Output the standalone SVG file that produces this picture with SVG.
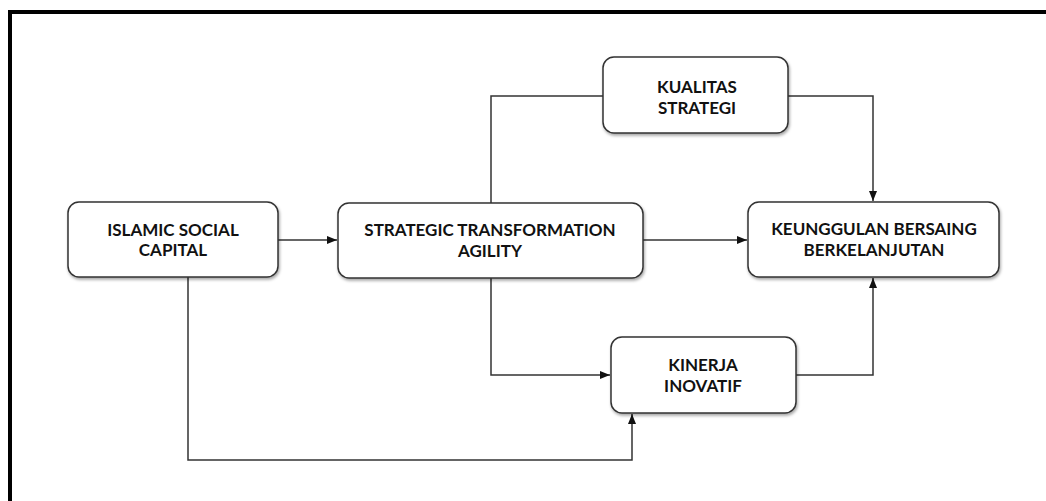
<svg xmlns="http://www.w3.org/2000/svg" width="1046" height="501" viewBox="0 0 1046 501">
<defs>
<filter id="sh" x="-10%" y="-10%" width="120%" height="130%">
<feDropShadow dx="1" dy="2" stdDeviation="1.5" flood-color="#000" flood-opacity="0.35"/>
</filter>
<marker id="ah" markerWidth="10" markerHeight="8" refX="10" refY="4" orient="auto" markerUnits="userSpaceOnUse">
<path d="M0,0 L10,4 L0,8 Z" fill="#111"/>
</marker>
</defs>
<style>
.box{fill:#fff;stroke:#333;stroke-width:1.5;filter:url(#sh)}
.t{font-family:Lato,"Open Sans",sans-serif;font-weight:bold;font-size:17px;fill:#111;text-anchor:middle}
.c{fill:none;stroke:#333;stroke-width:1.5}
</style>
<rect width="1046" height="501" fill="#fff"/>
<path d="M10,501 L10,12 L1046,12" fill="none" stroke="#000" stroke-width="4"/>
<g id="connectors">
<path class="c" d="M278,240 L337,240" marker-end="url(#ah)"/>
<path class="c" d="M643,240 L747,240" marker-end="url(#ah)"/>
<path class="c" d="M491,203 L491,96 L603,96"/>
<path class="c" d="M788,96 L873,96 L873,201" marker-end="url(#ah)"/>
<path class="c" d="M491,278 L491,375 L610,375" marker-end="url(#ah)"/>
<path class="c" d="M796,375 L873,375 L873,278" marker-end="url(#ah)"/>
<path class="c" d="M188,277 L188,460 L632,460 L632,414" marker-end="url(#ah)"/>
</g>
<g id="n1"><rect class="box" x="68" y="202" width="210" height="75" rx="11"/>
<text class="t" x="173" y="236">ISLAMIC SOCIAL</text><text class="t" x="173" y="256">CAPITAL</text></g>
<g id="n2"><rect class="box" x="338" y="203" width="305" height="75" rx="11"/>
<text class="t" x="490" y="236">STRATEGIC TRANSFORMATION</text><text class="t" x="490" y="257">AGILITY</text></g>
<g id="n3"><rect class="box" x="603" y="57" width="185" height="76" rx="11"/>
<text class="t" x="697" y="93">KUALITAS</text><text class="t" x="697" y="114">STRATEGI</text></g>
<g id="n4"><rect class="box" x="611" y="337" width="185" height="76" rx="11"/>
<text class="t" x="703" y="371">KINERJA</text><text class="t" x="703" y="392">INOVATIF</text></g>
<g id="n5"><rect class="box" x="748" y="202" width="251" height="75" rx="11"/>
<text class="t" x="874" y="235">KEUNGGULAN BERSAING</text><text class="t" x="874" y="256">BERKELANJUTAN</text></g>
</svg>
